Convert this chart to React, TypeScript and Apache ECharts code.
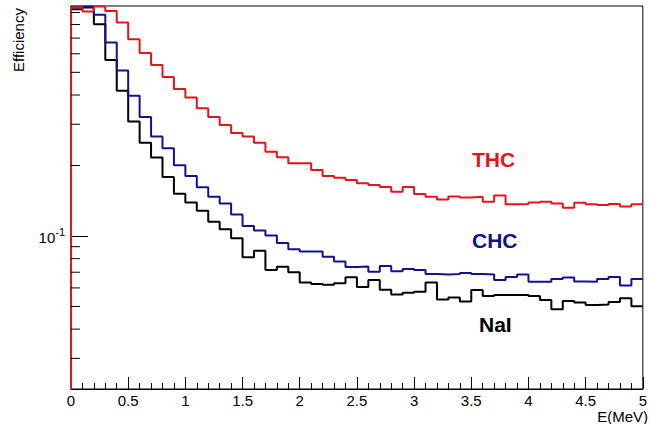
import React, { useEffect, useRef } from "react";
import * as echarts from "echarts";

const FONT = "'Liberation Sans', Arial, Helvetica, sans-serif";

// low edges of the 50 bins (width 0.1 MeV)
const binLow = [
  0, 0.1, 0.2, 0.3, 0.4, 0.5, 0.6, 0.7, 0.8, 0.9,
  1.0, 1.1, 1.2, 1.3, 1.4, 1.5, 1.6, 1.7, 1.8, 1.9,
  2.0, 2.1, 2.2, 2.3, 2.4, 2.5, 2.6, 2.7, 2.8, 2.9,
  3.0, 3.1, 3.2, 3.3, 3.4, 3.5, 3.6, 3.7, 3.8, 3.9,
  4.0, 4.1, 4.2, 4.3, 4.4, 4.5, 4.6, 4.7, 4.8, 4.9,
];
const xMax = 5;

const thc = [
  0.949, 0.909, 0.955, 0.915, 0.816, 0.693, 0.604, 0.538, 0.477, 0.424,
  0.390, 0.351, 0.322, 0.298, 0.275, 0.266, 0.250, 0.229, 0.217, 0.2045,
  0.2045, 0.1915, 0.1805, 0.1775, 0.1735, 0.168, 0.165, 0.162, 0.1545, 0.162,
  0.151, 0.147, 0.143, 0.1475, 0.146, 0.147, 0.140, 0.149, 0.1365, 0.137,
  0.139, 0.140, 0.1375, 0.132, 0.1385, 0.1365, 0.1355, 0.137, 0.1335, 0.1365,
];
const chc = [
  0.952, 0.955, 0.880, 0.670, 0.509, 0.397, 0.322, 0.266, 0.237, 0.2005,
  0.1805, 0.1615, 0.147, 0.1375, 0.1236, 0.1104, 0.1056, 0.1005, 0.0933, 0.0877,
  0.0858, 0.0858, 0.0816, 0.0777, 0.0737, 0.0741, 0.0704, 0.0744, 0.0707, 0.0723,
  0.0716, 0.0688, 0.0685, 0.0688, 0.0695, 0.0688, 0.0685, 0.0649, 0.0668, 0.0685,
  0.0638, 0.0638, 0.0655, 0.0665, 0.0639, 0.0638, 0.0655, 0.0668, 0.0614, 0.0655,
];
const nai = [
  0.930, 0.945, 0.803, 0.565, 0.417, 0.308, 0.250, 0.2165, 0.1787, 0.1516,
  0.139, 0.1283, 0.1151, 0.1069, 0.0978, 0.0811, 0.0865, 0.0716, 0.0739, 0.0700,
  0.0632, 0.0624, 0.0619, 0.0628, 0.0666, 0.0605, 0.0649, 0.0589, 0.0562, 0.0572,
  0.0578, 0.0632, 0.0535, 0.0546, 0.0525, 0.0588, 0.0554, 0.0560, 0.0560, 0.0560,
  0.0554, 0.0533, 0.0486, 0.0528, 0.0520, 0.0507, 0.0510, 0.0522, 0.0542, 0.0501,
];

const yMin = 0.0222;
const yMax = 0.96;
const yMinorTicks = [0.03, 0.04, 0.05, 0.06, 0.07, 0.08, 0.09, 0.2, 0.3, 0.4, 0.5, 0.6, 0.7, 0.8, 0.9];

const RED = "#e3141c";
const BLUE = "#12128f";
const BLACK = "#000000";

function stepData(vals: number[]) {
  const pts: number[][] = [[0, yMin]];
  binLow.forEach((x, i) => pts.push([x, vals[i]]));
  pts.push([xMax, vals[vals.length - 1]]);
  return pts;
}

function histSeries(name: string, vals: number[], color: string, z: number) {
  return {
    name,
    type: "line",
    step: "end",
    symbol: "none",
    data: stepData(vals),
    lineStyle: { color, width: 2 },
    z,
    silent: true,
  };
}

export default function App() {
  const ref = useRef<HTMLDivElement>(null);
  useEffect(() => {
    if (!ref.current) return;
    const chart = echarts.init(ref.current, undefined, { renderer: "svg" });
    const option: any = {
      animation: false,
      backgroundColor: "#ffffff",
      grid: {
        left: 71,
        right: 2,
        top: 6,
        bottom: 35,
        show: true,
        borderColor: "#000",
        borderWidth: 1,
        backgroundColor: "transparent",
      },
      xAxis: {
        type: "value",
        min: 0,
        max: xMax,
        interval: 0.5,
        axisLine: { show: true, lineStyle: { color: "#000", width: 1 } },
        axisTick: { show: true, inside: true, length: 12, lineStyle: { color: "#000" } },
        minorTick: { show: true, splitNumber: 5, length: 6, lineStyle: { color: "#000" } },
        splitLine: { show: false },
        minorSplitLine: { show: false },
        axisLabel: { color: "#000", fontSize: 15, lineHeight: 13, fontFamily: FONT, margin: 5 },
      },
      yAxis: {
        type: "log",
        logBase: 10,
        min: yMin,
        max: yMax,
        axisLine: { show: true, lineStyle: { color: "#000" } },
        axisTick: { show: true, inside: true, length: 17, lineStyle: { color: "#000" } },
        splitLine: { show: false },
        axisLabel: {
          showMinLabel: false,
          showMaxLabel: false,
          margin: 6,
          formatter: (v: number) => (Math.abs(v - 0.1) < 1e-9 ? "{b|10}{s|-1}" : ""),
          rich: {
            b: { fontSize: 15, fontFamily: FONT, color: "#000", verticalAlign: "bottom" },
            s: { fontSize: 11, fontFamily: FONT, color: "#000", verticalAlign: "bottom", padding: [0, 0, 8, 0] },
          },
        },
      },
      series: [
        histSeries("NaI", nai, BLACK, 2),
        histSeries("CHC", chc, BLUE, 3),
        histSeries("THC", thc, RED, 4),
        {
          type: "custom",
          data: yMinorTicks.map((v) => [0, v]),
          encode: { x: 0, y: 1 },
          silent: true,
          z: 5,
          renderItem: (params: any, api: any) => {
            const p = api.coord([api.value(0), api.value(1)]);
            return {
              type: "line",
              shape: { x1: p[0], y1: p[1], x2: p[0] + 9, y2: p[1] },
              style: { stroke: "#000", lineWidth: 1 },
            };
          },
        },
      ],
      graphic: [
        {
          type: "text",
          x: 18,
          y: 40,
          rotation: Math.PI / 2,
          style: { text: "Efficiency", fontSize: 15, fontFamily: FONT, fill: "#000", align: "center", verticalAlign: "middle" },
        },
        {
          type: "text",
          x: 648,
          y: 416,
          style: { text: "E(MeV)", fontSize: 15, lineHeight: 13, fontFamily: FONT, fill: "#000", align: "right", verticalAlign: "middle" },
        },
        {
          type: "text",
          x: 472,
          y: 159.5,
          style: { text: "THC", fontSize: 21, fontWeight: "bold", fontFamily: FONT, fill: RED, align: "left", verticalAlign: "middle" },
        },
        {
          type: "text",
          x: 472,
          y: 240.5,
          style: { text: "CHC", fontSize: 21, fontWeight: "bold", fontFamily: FONT, fill: BLUE, align: "left", verticalAlign: "middle" },
        },
        {
          type: "text",
          x: 479,
          y: 324.5,
          style: { text: "NaI", fontSize: 21, fontWeight: "bold", fontFamily: FONT, fill: BLACK, align: "left", verticalAlign: "middle" },
        },
      ],
    };
    chart.setOption(option);
    return () => chart.dispose();
  }, []);
  return (
    <div
      ref={ref}
      style={{ position: "absolute", left: 0, top: 0, width: 650, height: 424, background: "#fff" }}
    />
  );
}
